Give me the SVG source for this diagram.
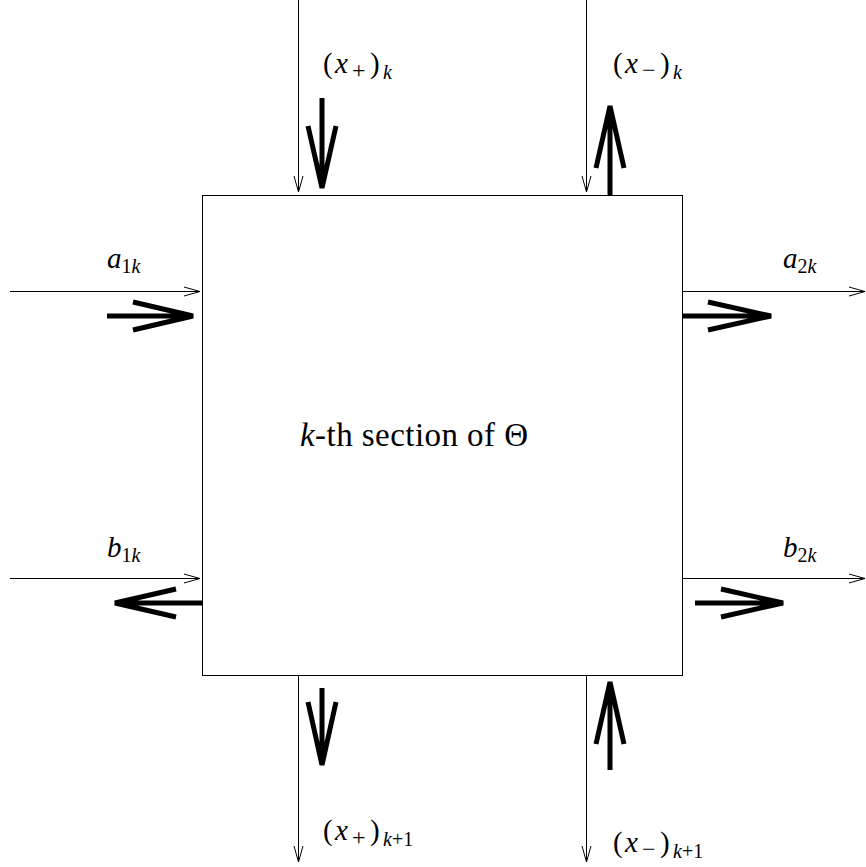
<svg xmlns="http://www.w3.org/2000/svg" width="866" height="867" viewBox="0 0 866 867">
<style>
.thin{fill:none;stroke:#000;stroke-width:1}
.thick{fill:none;stroke:#000;stroke-width:5;stroke-linecap:butt;stroke-linejoin:miter}
.box{fill:#fff;stroke:#000;stroke-width:1}
.t{font-size:29px;fill:#000}
.i{font-style:italic}
.s{font-size:20px}
.op{font-size:24px}
</style>
<defs>
<marker id="th" markerUnits="userSpaceOnUse" markerWidth="20" markerHeight="12" refX="16" refY="6" orient="auto" viewBox="0 0 20 12">
<path d="M0,1.5 L16,6 L0,10.5" fill="none" stroke="#000" stroke-width="1"/>
</marker>
</defs>
<rect x="0" y="0" width="866" height="867" fill="#fff"/>
<g id="section">
<rect class="box" x="202.5" y="195.5" width="480" height="480"/>
<text x="300" y="446" font-family="Liberation Serif, Times New Roman, DejaVu Serif, serif" font-size="33" textLength="228" lengthAdjust="spacing"><tspan font-style="italic">k</tspan>-th section of Θ</text>
</g>
<g id="connectors">
<line class="thin" x1="298.5" y1="0" x2="298.5" y2="192" marker-end="url(#th)"/>
<line class="thin" x1="586.5" y1="0" x2="586.5" y2="192" marker-end="url(#th)"/>
<line class="thin" x1="10" y1="291.5" x2="200" y2="291.5" marker-end="url(#th)"/>
<line class="thin" x1="682" y1="291.5" x2="865" y2="291.5" marker-end="url(#th)"/>
<line class="thin" x1="10" y1="578.5" x2="200" y2="578.5" marker-end="url(#th)"/>
<line class="thin" x1="682" y1="578.5" x2="865" y2="578.5" marker-end="url(#th)"/>
<line class="thin" x1="298.5" y1="675" x2="298.5" y2="862" marker-end="url(#th)"/>
<line class="thin" x1="586.5" y1="675" x2="586.5" y2="862" marker-end="url(#th)"/>
</g>
<g id="flows">
<path class="thick" d="M322,98 L322,188 M308,126 L322,188 L336,126"/>
<path class="thick" d="M610,195 L610,106 M596,168 L610,106 L624,168"/>
<path class="thick" d="M107,316 L193,316 M133,302 L193,316 L133,330"/>
<path class="thick" d="M682,316 L771,316 M708,302 L771,316 L708,330"/>
<path class="thick" d="M202,603 L115,603 M176,589 L115,603 L176,617"/>
<path class="thick" d="M695,603 L783,603 M721,589 L783,603 L721,617"/>
<path class="thick" d="M322,688 L322,765 M308,702 L322,765 L336,702"/>
<path class="thick" d="M610,770 L610,682 M596,744 L610,682 L624,744"/>
</g>
<g id="labels" font-family="Liberation Serif, Times New Roman, DejaVu Serif, serif">
<g id="lab-xp-k">
<text class="t" x="323" y="73">(</text><text class="t i" x="335" y="73">x</text><text class="t op" x="352" y="78">+</text><text class="t" x="370" y="73">)</text><text class="t s i" x="383" y="79">k</text>
</g>
<g id="lab-xm-k">
<text class="t" x="613" y="73">(</text><text class="t i" x="625" y="73">x</text><text class="t op" x="642" y="78">−</text><text class="t" x="660" y="73">)</text><text class="t s i" x="673" y="79">k</text>
</g>
<text class="t" x="107" y="268"><tspan class="i">a</tspan><tspan class="s" dy="5">1<tspan class="i">k</tspan></tspan></text>
<text class="t" x="783" y="268"><tspan class="i">a</tspan><tspan class="s" dy="5">2<tspan class="i">k</tspan></tspan></text>
<text class="t" x="107" y="557"><tspan class="i">b</tspan><tspan class="s" dy="5">1<tspan class="i">k</tspan></tspan></text>
<text class="t" x="783" y="557"><tspan class="i">b</tspan><tspan class="s" dy="5">2<tspan class="i">k</tspan></tspan></text>
<g id="lab-xp-k1">
<text class="t" x="323" y="840">(</text><text class="t i" x="335" y="840">x</text><text class="t op" x="352" y="845">+</text><text class="t" x="370" y="840">)</text><text class="t s" x="383" y="846"><tspan class="i">k</tspan>+1</text>
</g>
<g id="lab-xm-k1">
<text class="t" x="613" y="852">(</text><text class="t i" x="625" y="852">x</text><text class="t op" x="642" y="857">−</text><text class="t" x="660" y="852">)</text><text class="t s" x="673" y="858"><tspan class="i">k</tspan>+1</text>
</g>
</g>
</svg>
